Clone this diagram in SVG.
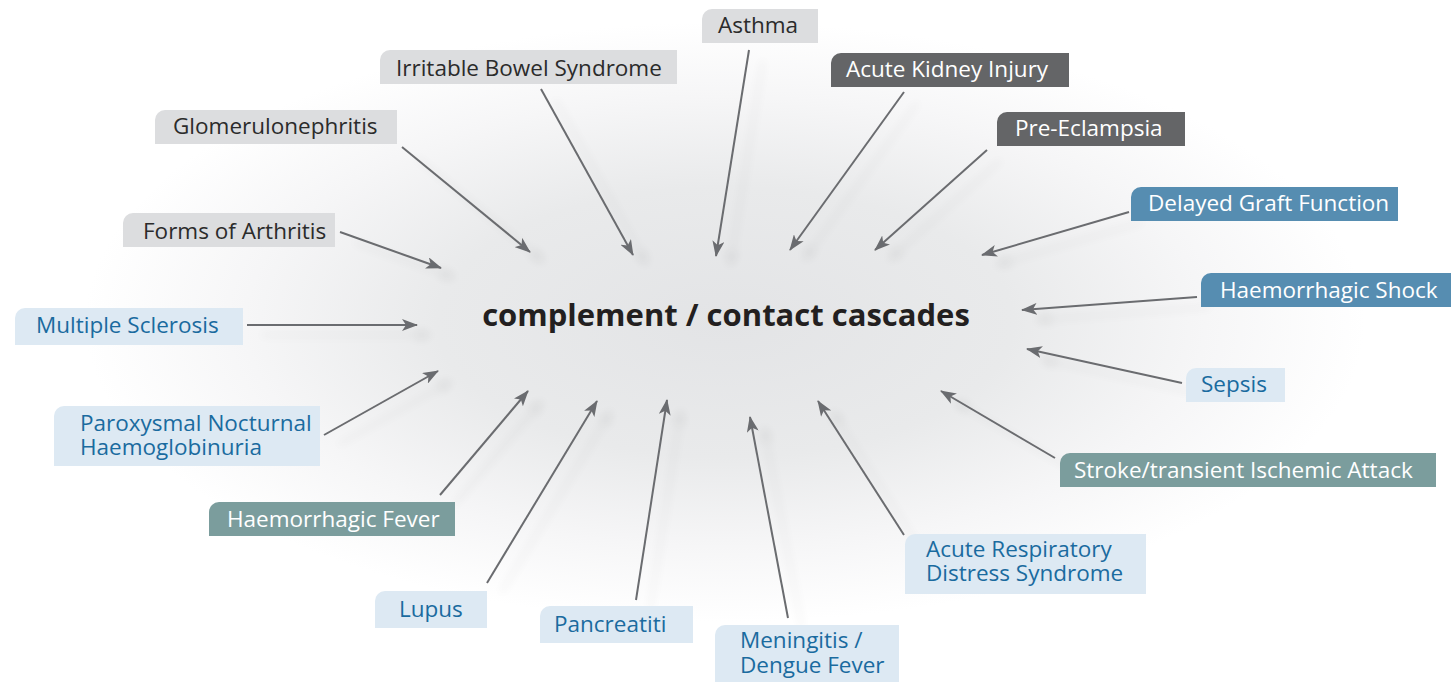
<svg xmlns="http://www.w3.org/2000/svg" width="1451" height="682" viewBox="0 0 1451 682">
<style>
text{font-family:"Open Sans","Liberation Sans",sans-serif;font-size:22.5px}
.g path{fill:#dcdddf}.g text{fill:#2b2b2b}
.d path{fill:#646567}.d text{fill:#fff}
.b path{fill:#568db1}.b text{fill:#fff}
.t path{fill:#7b9d9d}.t text{fill:#fff}
.l path{fill:#dde9f3}.l text{fill:#1a6b9f}
#connectors line{stroke:#6b6c6f;stroke-width:2;marker-end:url(#ah)}
.title{font-weight:bold;font-size:31px;fill:#231f20}
</style>
<defs>
<radialGradient id="glow" cx="0.5" cy="0.5" r="0.5">
<stop offset="0" stop-color="#e3e4e6"/>
<stop offset="0.45" stop-color="#e9eaeb"/>
<stop offset="0.75" stop-color="#f6f6f7"/>
<stop offset="1" stop-color="#ffffff"/>
</radialGradient>
<marker id="ah" viewBox="0 0 16 12" refX="15" refY="6" markerWidth="16" markerHeight="12" markerUnits="userSpaceOnUse" orient="auto">
<path d="M0,0 L16,6 L0,12 L4,6 Z" fill="#6b6c6f"/>
</marker>
<filter id="sh" x="-20%" y="-20%" width="140%" height="140%">
<feGaussianBlur in="SourceAlpha" stdDeviation="5"/>
<feOffset dx="14" dy="10" result="o"/>
<feComponentTransfer><feFuncA type="linear" slope="0.09"/></feComponentTransfer>
<feMerge><feMergeNode/><feMergeNode in="SourceGraphic"/></feMerge>
</filter>
</defs>
<rect width="1451" height="682" fill="#fff"/>
<ellipse cx="725" cy="322" rx="640" ry="300" fill="url(#glow)"/>

<g id="connectors" filter="url(#sh)">
<line x1="749" y1="50" x2="716" y2="256"/>
<line x1="541" y1="89" x2="633" y2="255"/>
<line x1="904" y1="92" x2="790" y2="250"/>
<line x1="402" y1="147" x2="530" y2="252"/>
<line x1="987" y1="150" x2="875" y2="250"/>
<line x1="1129" y1="212" x2="982" y2="255"/>
<line x1="340" y1="232" x2="441" y2="268"/>
<line x1="1197" y1="297" x2="1022" y2="310"/>
<line x1="247" y1="325" x2="417" y2="325"/>
<line x1="1182" y1="383" x2="1027" y2="349"/>
<line x1="324" y1="435" x2="438" y2="371"/>
<line x1="1055" y1="458" x2="941" y2="391"/>
<line x1="440" y1="495" x2="528" y2="391"/>
<line x1="904" y1="535" x2="818" y2="401"/>
<line x1="487" y1="583" x2="597" y2="401"/>
<line x1="636" y1="600" x2="667" y2="400"/>
<line x1="788" y1="618" x2="750" y2="417"/>
</g>

<g id="center"><text class="title" x="726" y="326" text-anchor="middle">complement / contact cascades</text></g>

<g id="asthma" class="g"><path d="M702,43 V19 A10,10 0 0 1 712,9 H818 V43 Z"/><text x="718" y="33">Asthma</text></g>
<g id="ibs" class="g"><path d="M380,84 V60 A10,10 0 0 1 390,50 H677 V84 Z"/><text x="396" y="76">Irritable Bowel Syndrome</text></g>
<g id="aki" class="d"><path d="M831,87 V63 A10,10 0 0 1 841,53 H1069 V87 Z"/><text x="846" y="77">Acute Kidney Injury</text></g>
<g id="glomerulonephritis" class="g"><path d="M155,144 V120 A10,10 0 0 1 165,110 H397 V144 Z"/><text x="173" y="134">Glomerulonephritis</text></g>
<g id="preeclampsia" class="d"><path d="M997,146 V122 A10,10 0 0 1 1007,112 H1185 V146 Z"/><text x="1015" y="136">Pre-Eclampsia</text></g>
<g id="dgf" class="b"><path d="M1131,221 V197 A10,10 0 0 1 1141,187 H1398 V221 Z"/><text x="1148" y="211">Delayed Graft Function</text></g>
<g id="arthritis" class="g"><path d="M123,247 V223 A10,10 0 0 1 133,213 H335 V247 Z"/><text x="143" y="239">Forms of Arthritis</text></g>
<g id="hshock" class="b"><path d="M1201,307 V283 A10,10 0 0 1 1211,273 H1451 V307 Z"/><text x="1220" y="298">Haemorrhagic Shock</text></g>
<g id="ms" class="l"><path d="M15,345 V318 A10,10 0 0 1 25,308 H243 V345 Z"/><text x="36" y="333">Multiple Sclerosis</text></g>
<g id="sepsis" class="l"><path d="M1186,402 V378 A10,10 0 0 1 1196,368 H1285 V402 Z"/><text x="1201" y="392">Sepsis</text></g>
<g id="pnh" class="l"><path d="M54,466 V416 A10,10 0 0 1 64,406 H320 V466 Z"/><text x="80" y="431">Paroxysmal Nocturnal</text><text x="80" y="455">Haemoglobinuria</text></g>
<g id="stroke" class="t"><path d="M1060,487 V463 A10,10 0 0 1 1070,453 H1436 V487 Z"/><text x="1074" y="478">Stroke/transient Ischemic Attack</text></g>
<g id="hfever" class="t"><path d="M209,536 V512 A10,10 0 0 1 219,502 H455 V536 Z"/><text x="227" y="527">Haemorrhagic Fever</text></g>
<g id="ards" class="l"><path d="M905,594 V544 A10,10 0 0 1 915,534 H1146 V594 Z"/><text x="926" y="557">Acute Respiratory</text><text x="926" y="581">Distress Syndrome</text></g>
<g id="lupus" class="l"><path d="M375,628 V601 A10,10 0 0 1 385,591 H487 V628 Z"/><text x="399" y="617">Lupus</text></g>
<g id="pancreatiti" class="l"><path d="M540,643 V616 A10,10 0 0 1 550,606 H693 V643 Z"/><text x="554" y="632">Pancreatiti</text></g>
<g id="meningitis" class="l"><path d="M715,682 V635 A10,10 0 0 1 725,625 H899 V682 Z"/><text x="740" y="648">Meningitis /</text><text x="740" y="673">Dengue Fever</text></g>
</svg>
